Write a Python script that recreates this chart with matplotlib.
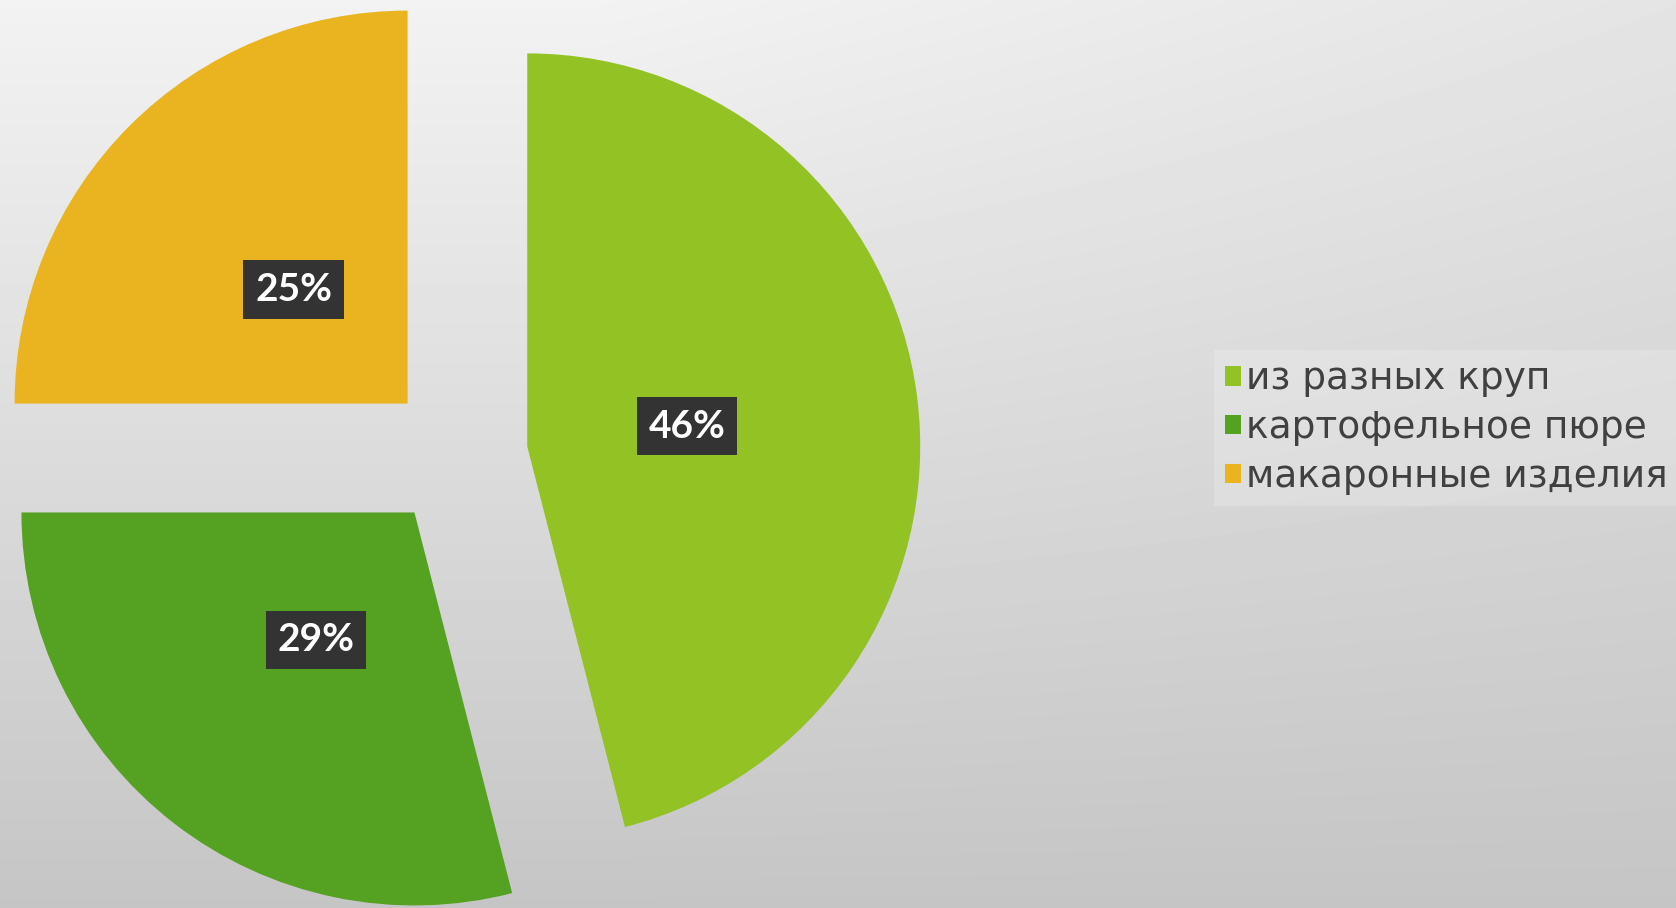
import numpy as np
import matplotlib.pyplot as plt

labels = ['из разных круп', 'картофельное пюре', 'макаронные изделия']
shares = [46, 29, 25]
colors = ['#93C225', '#55A122', '#E9B420']

W, H = 1676, 908
fig = plt.figure(figsize=(W / 100, H / 100), dpi=100)

# grey backdrop, light along the top and darker towards the bottom
bg = fig.add_axes([0, 0, 1, 1], zorder=0)
xx, yy = np.meshgrid(np.linspace(0, 1, 400), np.linspace(0, 1, 220))
top = 0.95 - 0.055 * np.clip((xx * W - 600) / 1076, 0, 1)
shade = top + (0.772 - top) * yy
bg.imshow(shade, cmap='gray', vmin=0, vmax=1, extent=[0, 1, 0, 1],
          origin='upper', aspect='auto', interpolation='bilinear')
bg.axis('off')

# pie: radius R px, centre at (cx, cy) px from the top-left corner
R, cx, cy = 393, 459, 455
ax = fig.add_axes([0, 0, 1, 1], zorder=1)
ax.patch.set_alpha(0)
wedges, _, pcts = ax.pie(
    shares, colors=colors, startangle=90, counterclock=False,
    explode=[0.175, 0.185, 0.185], autopct=lambda p: f'{p:.0f}%',
    pctdistance=0.41,
    textprops=dict(color='white', fontsize=28, fontweight='bold',
                   family=['Lato', 'DejaVu Sans']))
for t in pcts:
    t.set_bbox(dict(boxstyle='square,pad=0.3', fc='#333333', ec='none'))
ax.set_xlim(-cx / R, (W - cx) / R)
ax.set_ylim(-(H - cy) / R, cy / R)
ax.set_aspect('equal')
ax.axis('off')

leg = fig.legend(wedges, labels, loc='upper left',
                 bbox_to_anchor=(1214 / W, 1 - 350 / H),
                 frameon=True, fancybox=False, fontsize=27,
                 facecolor='white', edgecolor='none', framealpha=0.2,
                 handlelength=0.42, handleheight=0.42, handletextpad=0.12,
                 labelspacing=0.34, borderpad=0.3, borderaxespad=0)
for t in leg.get_texts():
    t.set_color('#404040')

fig.savefig('out.png', dpi=100)
